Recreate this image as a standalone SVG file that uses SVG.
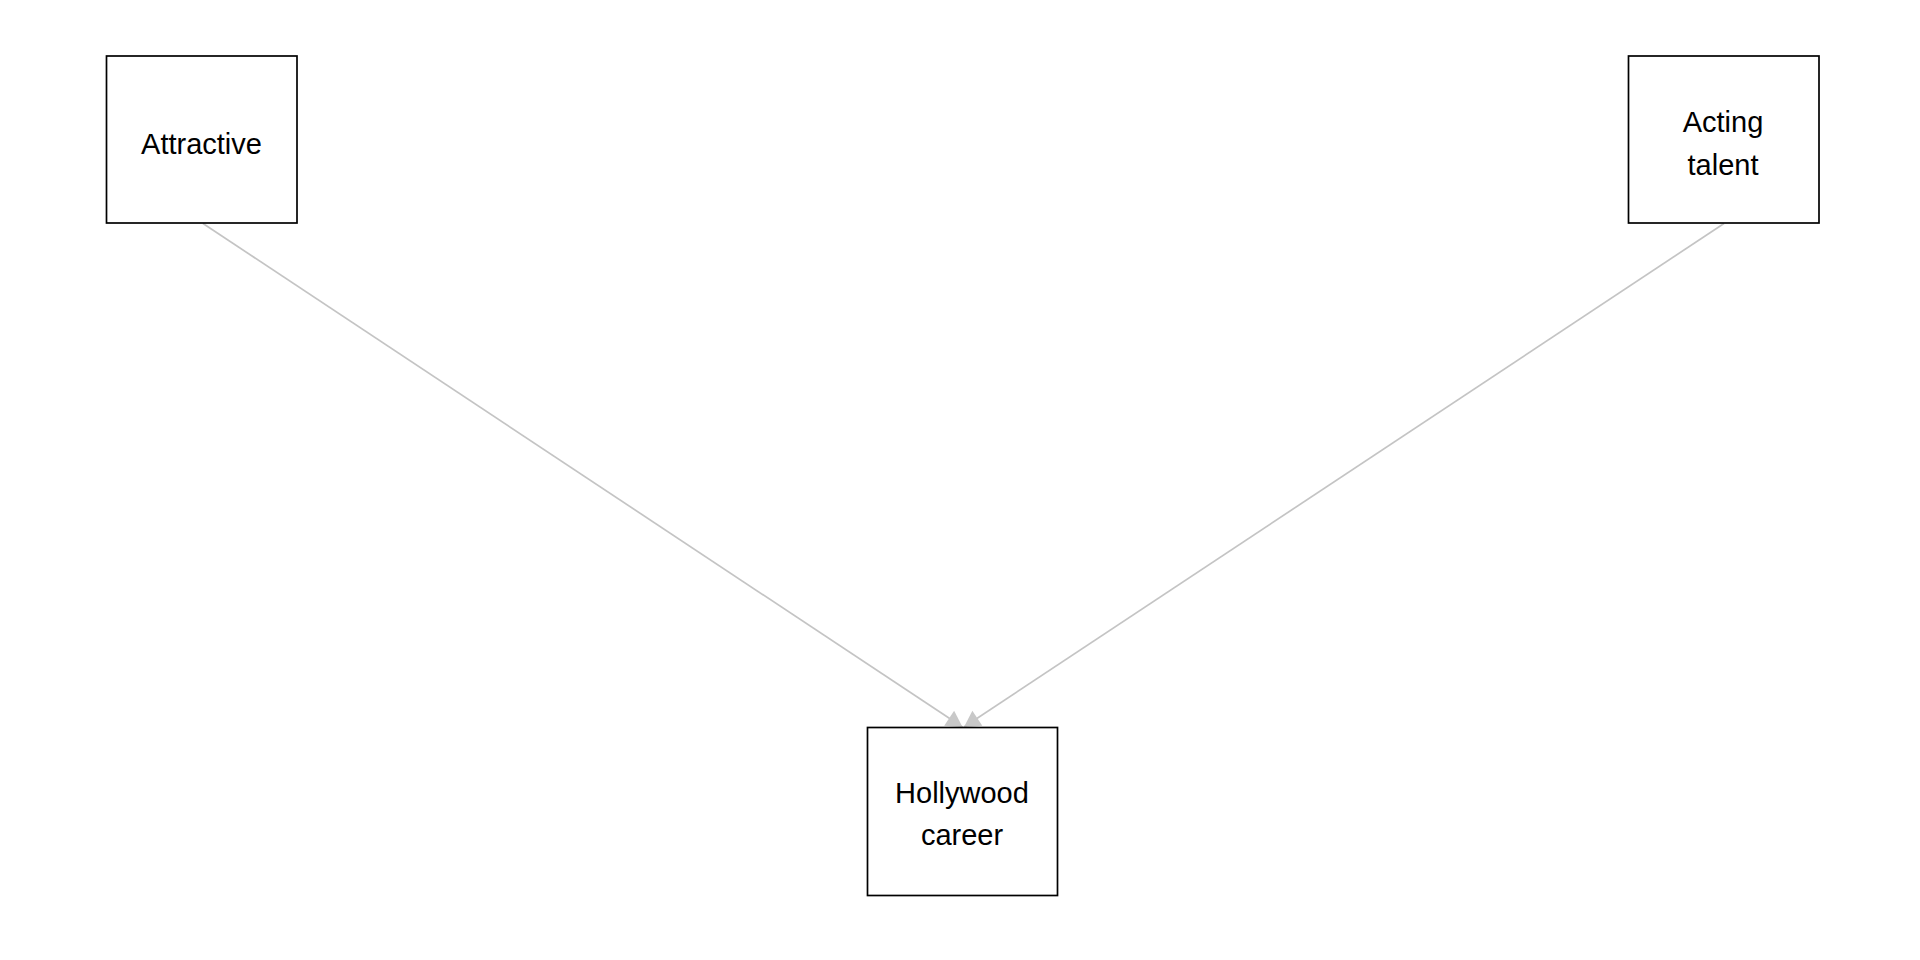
<svg xmlns="http://www.w3.org/2000/svg" width="1920" height="960" viewBox="0 0 1920 960">
<style>
.node rect{fill:#ffffff;stroke:#000000;stroke-width:1.7}
.node text{font-family:"Liberation Sans",Arial,sans-serif;font-size:29px;fill:#000000;text-anchor:middle}
.edge{stroke:#c4c4c4;stroke-width:1.7;fill:none}
</style>
<defs>
<marker id="arrow" markerUnits="userSpaceOnUse" markerWidth="20" markerHeight="20" viewBox="0 -10 17 20" refX="16" refY="0" orient="auto">
<path d="M0,-9 L16,0 L0,9 z" fill="#c8c8c8"/>
</marker>
</defs>
<rect width="1920" height="960" fill="#ffffff"/>
<g id="connectors">
<line class="edge" x1="203" y1="223.5" x2="962.5" y2="727" marker-end="url(#arrow)"/>
<line class="edge" x1="1724" y1="223.5" x2="964" y2="727" marker-end="url(#arrow)"/>
</g>
<g id="node-attractive" class="node">
<rect x="106.5" y="56" width="190.5" height="167"/>
<text x="201.5" y="153.5">Attractive</text>
</g>
<g id="node-acting-talent" class="node">
<rect x="1628.5" y="56" width="190.5" height="167"/>
<text x="1723" y="132">Acting</text>
<text x="1723" y="174.5">talent</text>
</g>
<g id="node-hollywood-career" class="node">
<rect x="867.5" y="727.5" width="190" height="168"/>
<text x="962" y="802.5">Hollywood</text>
<text x="962" y="845">career</text>
</g>
</svg>
